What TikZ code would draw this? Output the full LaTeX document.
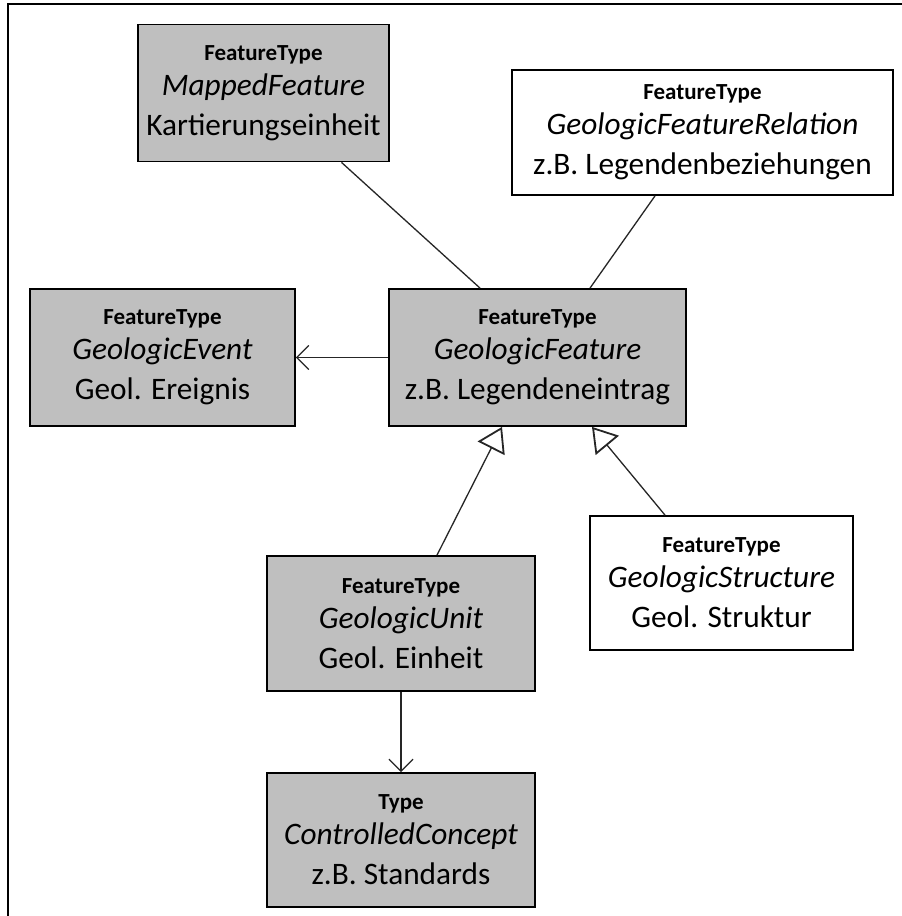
\documentclass[tikz,border=0pt]{standalone}
\usepackage{fontspec}
\setmainfont{Carlito}
\usetikzlibrary{arrows.meta,calc}
\definecolor{boxgray}{RGB}{191,191,191}
\tikzset{
  cls/.style={draw=black, line width=1.8pt, rectangle, inner sep=0pt, align=center,
    font=\fontsize{31.3}{40}\selectfont},
  grayfill/.style={fill=boxgray},
  conn/.style={draw=black!85, line width=1.3pt},
  assoc/.style={conn, -{Straight Barb[length=12pt,width=24pt,line width=1.3pt]}},
  gener/.style={conn, -{Triangle[open,length=24pt,width=30pt,line width=1.8pt,fill=white]}},
}
\newcommand{\ftitle}[1]{{\fontsize{23}{26}\selectfont\bfseries #1}\\[-5pt]}
\begin{document}
\begin{tikzpicture}[x=1pt,y=-1pt]
\useasboundingbox (0,0) rectangle (902,916);
\fill[white] (0,0) rectangle (902,916);
\draw[line width=2pt] (8,916) -- (8,4) -- (902,4);

\node[cls,grayfill,minimum width=251pt,minimum height=137pt] (mf) at (263.5,93)
  {\ftitle{FeatureType}\textit{MappedFeature}\\Kartierungseinheit};
\node[cls,fill=white,minimum width=381pt,minimum height=125pt] (gfr) at (702.5,132.5)
  {\ftitle{FeatureType}\textit{GeologicFeatureRelation}\\z.B. Legendenbeziehungen};
\node[cls,grayfill,minimum width=265pt,minimum height=137pt] (ge) at (162.5,357.5)
  {\ftitle{FeatureType}\textit{GeologicEvent}\\Geol. Ereignis};
\node[cls,grayfill,minimum width=297pt,minimum height=137pt] (gf) at (537.5,357.5)
  {\ftitle{FeatureType}\textit{GeologicFeature}\\z.B. Legendeneintrag};
\node[cls,fill=white,minimum width=263pt,minimum height=134pt] (gs) at (721.5,583)
  {\ftitle{FeatureType}\textit{GeologicStructure}\\Geol. Struktur};
\node[cls,grayfill,minimum width=268pt,minimum height=135pt] (gu) at (401,623.5)
  {\ftitle{FeatureType}\textit{GeologicUnit}\\Geol. Einheit};
\node[cls,grayfill,minimum width=268pt,minimum height=134pt] (cc) at (401,840)
  {\ftitle{Type}\textit{ControlledConcept}\\z.B. Standards};

\draw[conn] ([xshift=78pt]mf.south) -- ([xshift=-57.5pt]gf.north);
\draw[conn] ([xshift=-47.5pt]gfr.south) -- ([xshift=52.5pt]gf.north);
\draw[assoc] (gf.west) -- (ge.east);
\draw[gener] ([xshift=36pt]gu.north) -- ([xshift=-35.5pt]gf.south);
\draw[gener] ([xshift=-56.5pt]gs.north) -- ([xshift=54.5pt]gf.south);
\draw[assoc] (gu.south) -- (cc.north);
\end{tikzpicture}
\end{document}
